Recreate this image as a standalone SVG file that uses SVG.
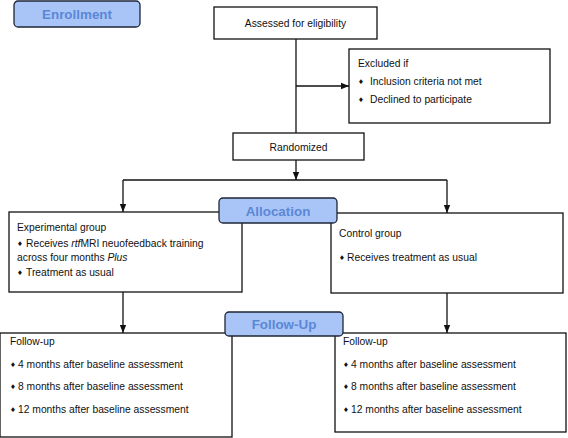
<svg xmlns="http://www.w3.org/2000/svg" width="568" height="438" viewBox="0 0 568 438">
<style>
.box{fill:#fff;stroke:#111;stroke-width:1.3}
.lbl{fill:#a9c5f7;stroke:#1e2636;stroke-width:1.3}
.lt{font-family:"Liberation Sans",Arial,sans-serif;font-weight:bold;font-size:13.4px;fill:#5b87d6;text-anchor:middle}
.t{font-family:"Liberation Sans",Arial,sans-serif;font-size:10.3px;fill:#111}
.c{text-anchor:middle}
.b{font-family:"DejaVu Sans",sans-serif;font-size:6.5px}
.ln{fill:none;stroke:#111;stroke-width:1.3}
</style>
<defs>
<marker id="ah" viewBox="0 0 8 8" refX="8" refY="4" markerWidth="8" markerHeight="8" markerUnits="userSpaceOnUse" orient="auto">
<path d="M0,0.8 L8,4 L0,7.2 z" fill="#111"/>
</marker>
</defs>
<g id="connectors">
<line class="ln" x1="296" y1="39" x2="296" y2="133"/>
<line class="ln" x1="296" y1="86" x2="349" y2="86" marker-end="url(#ah)"/>
<line class="ln" x1="296" y1="160" x2="296" y2="180" marker-end="url(#ah)"/>
<line class="ln" x1="123" y1="180" x2="447" y2="180"/>
<line class="ln" x1="123" y1="180" x2="123" y2="212" marker-end="url(#ah)"/>
<line class="ln" x1="447" y1="180" x2="447" y2="213" marker-end="url(#ah)"/>
<line class="ln" x1="123" y1="292" x2="123" y2="333" marker-end="url(#ah)"/>
<line class="ln" x1="447" y1="293" x2="447" y2="333" stroke-width="1.8" marker-end="url(#ah)"/>
</g>
<g id="assessed">
<rect class="box" x="214" y="7" width="163" height="32"/>
<text class="t c" x="295.5" y="27">Assessed for eligibility</text>
</g>
<g id="excluded">
<rect class="box" x="349" y="49" width="201" height="74"/>
<text class="t" x="358" y="67">Excluded if</text>
<text class="t" x="358" y="85"><tspan class="b" dy="-1.5">♦</tspan><tspan x="370" dy="1.5">Inclusion criteria not met</tspan></text>
<text class="t" x="358" y="103"><tspan class="b" dy="-1.5">♦</tspan><tspan x="370" dy="1.5">Declined to participate</tspan></text>
</g>
<g id="randomized">
<rect class="box" x="233" y="133" width="131" height="27"/>
<text class="t c" x="298.5" y="151">Randomized</text>
</g>
<g id="experimental">
<rect class="box" x="9" y="212" width="233" height="80"/>
<text class="t" x="17" y="231">Experimental group</text>
<text class="t" x="17" y="247"><tspan class="b" dy="-1.5">♦</tspan><tspan x="26" dy="1.5">Receives </tspan><tspan font-style="italic">rtf</tspan><tspan>MRI neuofeedback training</tspan></text>
<text class="t" x="17" y="261">across four months <tspan font-style="italic">Plus</tspan></text>
<text class="t" x="17" y="276"><tspan class="b" dy="-1.5">♦</tspan><tspan x="26" dy="1.5">Treatment as usual</tspan></text>
</g>
<g id="control">
<rect class="box" x="331" y="213" width="232" height="80"/>
<text class="t" x="339" y="237">Control group</text>
<text class="t" x="339" y="261"><tspan class="b" dy="-1.5">♦</tspan><tspan x="347" dy="1.5">Receives treatment as usual</tspan></text>
</g>
<g id="followup-left">
<rect class="box" x="0" y="333" width="232" height="104"/>
<text class="t" x="10" y="345">Follow-up</text>
<text class="t" x="10" y="368"><tspan class="b" dy="-1.5">♦</tspan><tspan x="18" dy="1.5">4 months after baseline assessment</tspan></text>
<text class="t" x="10" y="390"><tspan class="b" dy="-1.5">♦</tspan><tspan x="18" dy="1.5">8 months after baseline assessment</tspan></text>
<text class="t" x="10" y="413"><tspan class="b" dy="-1.5">♦</tspan><tspan x="18" dy="1.5">12 months after baseline assessment</tspan></text>
</g>
<g id="followup-right">
<rect class="box" x="335" y="333" width="231" height="99"/>
<text class="t" x="343" y="345">Follow-up</text>
<text class="t" x="343" y="368"><tspan class="b" dy="-1.5">♦</tspan><tspan x="351" dy="1.5">4 months after baseline assessment</tspan></text>
<text class="t" x="343" y="390"><tspan class="b" dy="-1.5">♦</tspan><tspan x="351" dy="1.5">8 months after baseline assessment</tspan></text>
<text class="t" x="343" y="413"><tspan class="b" dy="-1.5">♦</tspan><tspan x="351" dy="1.5">12 months after baseline assessment</tspan></text>
</g>
<g id="enrollment">
<rect class="lbl" x="14" y="1" width="126" height="26" rx="4"/>
<text class="lt" x="77" y="19">Enrollment</text>
</g>
<g id="allocation">
<rect class="lbl" x="219" y="198" width="118" height="25" rx="4"/>
<text class="lt" x="278" y="215.5">Allocation</text>
</g>
<g id="followup">
<rect class="lbl" x="225" y="312" width="118" height="24" rx="4"/>
<text class="lt" x="284" y="329">Follow-Up</text>
</g>
</svg>
